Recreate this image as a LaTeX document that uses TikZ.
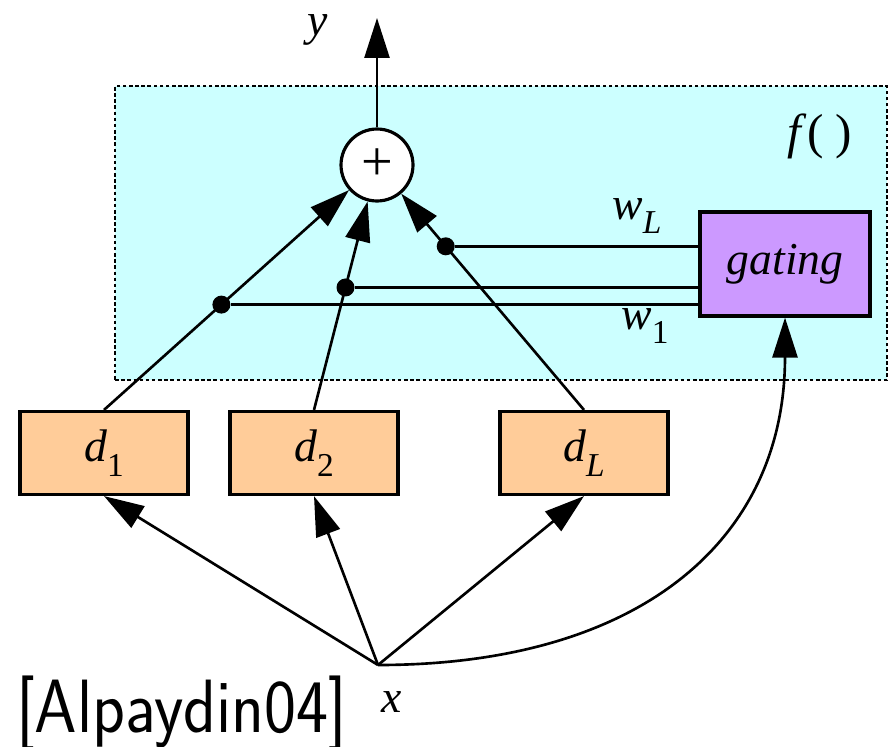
\documentclass[tikz,border=0pt]{standalone}
\usepackage{fontspec}
\setmainfont{Liberation Serif}
\usepackage{tikz}
\usetikzlibrary{arrows.meta,positioning,calc}
\definecolor{framecyan}{RGB}{204,255,255}
\definecolor{expertorange}{RGB}{255,204,153}
\definecolor{gatepurple}{RGB}{204,153,255}
\newcommand{\idx}[1]{\raisebox{-0.7ex}{\fontsize{19}{21}\selectfont #1}}
\tikzset{
  frame/.style ={rectangle, draw=black, fill=framecyan, line width=1.2pt,
                 dash pattern=on 2pt off 1.5pt, minimum width=15.44cm, minimum height=5.88cm},
  expert/.style={rectangle, draw=black, fill=expertorange, line width=1.8pt,
                 minimum width=3.36cm, minimum height=1.66cm, font=\fontsize{26}{30}\selectfont\itshape},
  gatebox/.style={rectangle, draw=black, fill=gatepurple, line width=1.8pt,
                 minimum width=3.4cm, minimum height=2.08cm, font=\fontsize{26}{30}\selectfont\itshape},
  sumnode/.style={circle, draw=black, fill=white, line width=1.8pt, minimum size=1.44cm,
                 inner sep=0pt, font=\fontsize{32}{34}\selectfont},
  dot/.style   ={circle, fill=black, minimum size=0.36cm, inner sep=0pt},
  lbl/.style   ={font=\fontsize{26}{30}\selectfont\itshape, inner sep=1pt},
  flow/.style  ={-{Triangle[length=0.8cm,width=0.5cm]}, line width=1.5pt},
  wire/.style  ={-, line width=1.5pt}
}

\begin{document}
\begin{tikzpicture}[x=0.02cm, y=-0.02cm]
\useasboundingbox (0,0) rectangle (889,747);
% Combiner box f()
\node[frame] (fbox) at (501,233) {};
\node[lbl, font=\fontsize{28}{30}\selectfont] (flbl) at (820,136) {\textit{f}( )};

% Sum and gating
\node[sumnode] (sum) at (377,165) {+};
\node[gatebox] (gate) at (785,264) {gating};
\coordinate (ytip) at (377,18);
\node[lbl] (ylbl) at (318,30) {y};

% Experts
\node[expert] (d1) at (104,453) {d\idx{\upshape 1}};
\node[expert] (d2) at (314,453) {d\idx{\upshape 2}};
\node[expert] (dL) at (584,453) {d\idx{L}};

% Input
\coordinate (x) at (378,665);
\node[lbl] (xlbl) at (392,702) {x};

% Weight taps
\node[dot] (j1) at ($(d1.north)!0.43!(sum.center)$) {};
\node[dot] (j2) at ($(d2.north)!0.5!(sum.center)$) {};
\node[dot] (jL) at ($(dL.north)!0.668!(sum.center)$) {};
\draw[wire] (j1) -- (j1 -| gate.west);
\draw[wire] (j2) -- (j2 -| gate.west);
\draw[wire] (jL) -- (jL -| gate.west);
\node[lbl] (wL) at (637,216) {w\idx{L}};
\node[lbl] (w1) at (645,326) {w\idx{\upshape 1}};

% Connectors
\draw[flow] (sum) -- (ytip);
\foreach \d in {d1,d2,dL}{
  \draw[flow] (\d.north) -- (sum);
  \draw[flow] (x) -- (\d.south);
}
\draw[flow] (x) .. controls (640,665) and (785,540) .. (gate.south);

\node[anchor=base west, inner sep=0pt, font=\sffamily\fontsize{43}{46}\selectfont]
  (cite) at (16,732) {\scalebox{0.9}[1]{[Alpaydin04]}};
\end{tikzpicture}
\end{document}
